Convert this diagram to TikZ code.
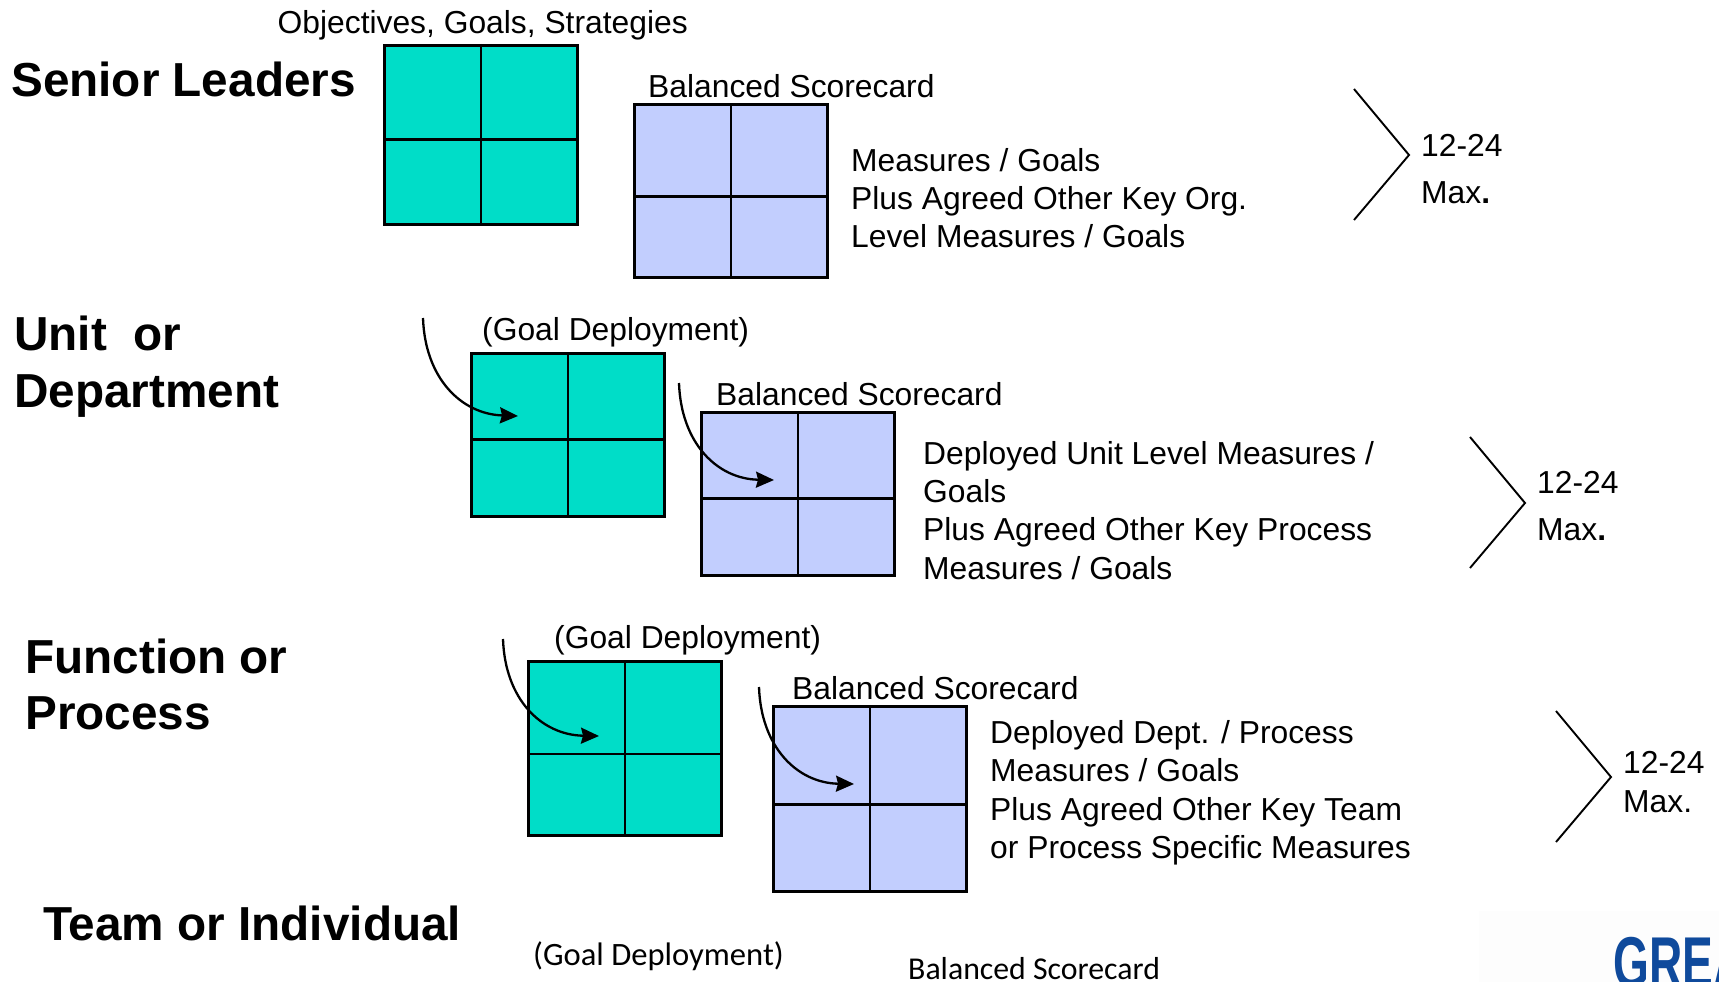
\documentclass[tikz,border=0pt]{standalone}
\usepackage{fontspec}
\setmainfont{Liberation Sans}
\newfontfamily\gillish{Carlito}
\usetikzlibrary{arrows.meta}
\definecolor{tealbox}{HTML}{00DDC8}
\definecolor{bluebox}{HTML}{C2CEFE}
\definecolor{logoblue}{HTML}{0F4A9C}
\definecolor{logobg}{HTML}{FDFDFD}
\tikzset{
  txt/.style={anchor=base west,inner sep=0pt,font=\fontsize{31.8}{36}\selectfont},
  head/.style={anchor=base west,inner sep=0pt,font=\fontsize{47.7}{54}\selectfont\bfseries},
  alt/.style={anchor=base west,inner sep=0pt,font=\fontsize{#1}{38}\selectfont\gillish},
  cell/.style={draw=black,line width=2.8pt,minimum width=193pt,minimum height=#1,inner sep=0pt,anchor=north west},
  rule/.style={line width=2.8pt},
  curve/.style={line width=2.3pt,-{Stealth[length=18pt,width=16pt,inset=2pt]}},
  chev/.style={line width=1.9pt}
}
% #1 name, #2 colour, #3 left, #4 top, #5 height, #6 y of the middle rule
\newcommand{\gridbox}[6]{
  \node[cell=#5,fill=#2] (#1) at (#3,#4) {};
  \coordinate (#1m) at (#3,#6);
  \coordinate (#1n) at (#3+193,#6);
  \draw[rule] (#1.north) -- (#1.south);
  \draw[rule] (#1m) -- (#1n);
}
% #1 name, #2 tip x, #3 tip y, #4 start x, #5 start y
\newcommand{\bentarrow}[5]{
  \coordinate (#1s) at (#4,#5);
  \coordinate (#1e) at (#2,#3);
  \draw[curve] (#1s) .. controls (#4+2,#5+60) and (#4+38,#5+96) .. (#1e);
}
% #1 name, #2 left x, #3 top y
\newcommand{\chevron}[3]{
  \coordinate (#1a) at (#2,#3);
  \coordinate (#1b) at (#2+55,#3+66);
  \coordinate (#1c) at (#2,#3+131);
  \draw[chev] (#1a) -- (#1b) -- (#1c);
}
\begin{document}
\begin{tikzpicture}[x=1pt,y=-1pt]
\useasboundingbox (0,0) rectangle (1719,982);
\fill[white] (0,0) rectangle (1719,982);
% logo
\fill[logobg] (1479,911) rectangle (1719,982);
\begin{scope}
\clip (1479,911) rectangle (1719,982);
\node[anchor=base west,inner sep=0pt,text=logoblue,font=\fontsize{72}{72}\selectfont\bfseries] (logo) at (1613,987) {\scalebox{0.64}[1]{GREAT}};
\end{scope}
% grids
\gridbox{ga}{tealbox}{383}{44}{179pt}{139.5}
\gridbox{ba}{bluebox}{633}{103}{173pt}{196.5}
\gridbox{gb}{tealbox}{470}{352}{163pt}{439.5}
\gridbox{bb}{bluebox}{700}{411}{163pt}{498.5}
\gridbox{gc}{tealbox}{527}{660}{174pt}{754}
\gridbox{bc}{bluebox}{772}{705}{185pt}{804.5}
% arrows
\bentarrow{ua}{518}{416}{423}{318}
\bentarrow{ub}{774}{480}{679}{383}
\bentarrow{uc}{599}{736}{503}{639}
\bentarrow{ud}{854}{784}{759}{687}
% chevrons
\chevron{ca}{1354}{89}
\chevron{cb}{1470}{437}
\chevron{cc}{1556}{711}
% headings
\node[head] (h1) at (11,96) {Senior Leaders};
\node[head] (h2) at (14,350) {Unit\ \ or};
\node[head] (h3) at (14,407) {Department};
\node[head] (h4) at (25,673) {Function or};
\node[head] (h5) at (25,729) {Process};
\node[head] (h6) at (43,940) {Team or Individual};
% row 1
\node[txt] (t1) at (277.5,33.5) {Objectives, Goals, Strategies};
\node[txt] (t2) at (648,97) {Balanced Scorecard};
\node[txt] (t3) at (851,171) {Measures / Goals};
\node[txt] (t4) at (851,209) {Plus Agreed Other Key Org.};
\node[txt] (t5) at (851,247.5) {Level Measures / Goals};
\node[txt] (t6) at (1421,156) {12-24};
\node[txt] (t7) at (1421,203) {Max\textbf{.}};
% row 2
\node[txt] (u1) at (482,340) {(Goal Deployment)};
\node[txt] (u2) at (716,405) {Balanced Scorecard};
\node[txt] (u3) at (923,464) {Deployed Unit Level Measures /};
\node[txt] (u4) at (923,502) {Goals};
\node[txt] (u5) at (923,540.5) {Plus Agreed Other Key Process};
\node[txt] (u6) at (923,579) {Measures / Goals};
\node[txt] (u7) at (1537,493) {12-24};
\node[txt] (u8) at (1537,540) {Max\textbf{.}};
% row 3
\node[txt] (v1) at (554,648) {(Goal Deployment)};
\node[txt] (v2) at (792,699) {Balanced Scorecard};
\node[txt] (v3) at (990,743) {Deployed Dept. / Process};
\node[txt] (v4) at (990,781.5) {Measures / Goals};
\node[txt] (v5) at (990,820) {Plus Agreed Other Key Team};
\node[txt] (v6) at (990,858) {or Process Specific Measures};
\node[txt] (v7) at (1623,773) {12-24};
\node[txt] (v8) at (1623,812) {Max.};
% row 4
\node[alt=32.6] (w1) at (533,965.5) {(Goal Deployment)};
\node[alt=31.8] (w2) at (908,979) {Balanced Scorecard};
\end{tikzpicture}
\end{document}
